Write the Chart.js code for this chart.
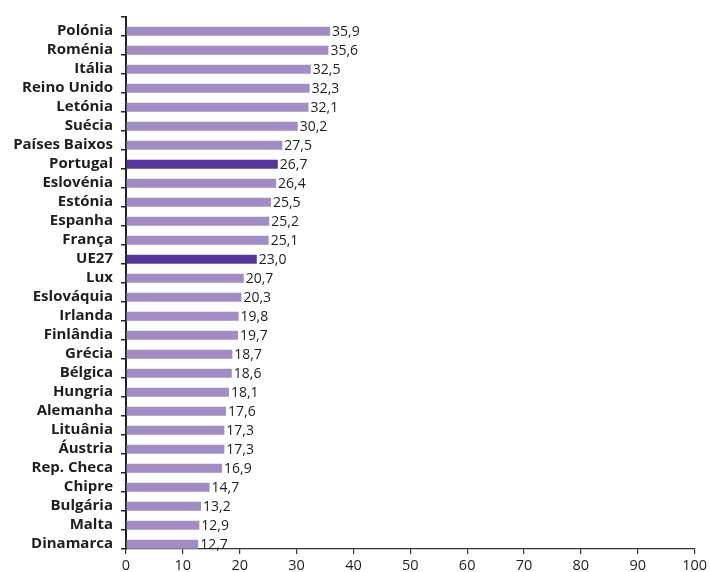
<!DOCTYPE html>
<html>
<head>
<meta charset="utf-8">
<script src="https://cdn.jsdelivr.net/npm/chart.js@4.4.1/dist/chart.umd.min.js"></script>
<style>
  html, body { margin: 0; padding: 0; background: #ffffff; }
  #wrap { width: 710px; height: 572px; position: relative; }
</style>
</head>
<body>
<div id="wrap"><canvas id="chart"></canvas></div>
<script>
// Countries, top to bottom
const countries = [
  'Polónia', 'Roménia', 'Itália', 'Reino Unido', 'Letónia', 'Suécia',
  'Países Baixos', 'Portugal', 'Eslovénia', 'Estónia', 'Espanha', 'França',
  'UE27', 'Lux', 'Eslováquia', 'Irlanda', 'Finlândia', 'Grécia', 'Bélgica',
  'Hungria', 'Alemanha', 'Lituânia', 'Áustria', 'Rep. Checa', 'Chipre',
  'Bulgária', 'Malta', 'Dinamarca'
];

// Value per country (%)
const values = [
  35.9, 35.6, 32.5, 32.3, 32.1, 30.2,
  27.5, 26.7, 26.4, 25.5, 25.2, 25.1,
  23.0, 20.7, 20.3, 19.8, 19.7, 18.7, 18.6,
  18.1, 17.6, 17.3, 17.3, 16.9, 14.7,
  13.2, 12.9, 12.7
];

// Bars shown in the darker shade
const highlighted = ['Portugal', 'UE27'];

// Horizontal axis ticks
const xTicks = [0, 10, 20, 30, 40, 50, 60, 70, 80, 90, 100];

const LIGHT = '#a38bc3';
const DARK = '#56389a';
const INK = '#1e1e1e';

const fmt = v => v.toFixed(1).replace('.', ',');

// Writes each value just past the end of its bar
const valueLabels = {
  id: 'valueLabels',
  afterDatasetsDraw(chart) {
    const { ctx } = chart;
    const meta = chart.getDatasetMeta(1);
    ctx.save();
    ctx.font = '14px "Open Sans"';
    ctx.fillStyle = INK;
    ctx.textAlign = 'left';
    ctx.textBaseline = 'middle';
    meta.data.forEach((bar, i) => {
      ctx.fillText(fmt(values[i]), bar.x + 2, bar.y + 1);
    });
    ctx.restore();
  }
};

new Chart(document.getElementById('chart'), {
  type: 'bar',
  data: {
    labels: countries,
    datasets: [
      // empty upper slot so each bar sits in the lower half of its row
      { label: 'spacer', data: countries.map(() => null) },
      {
        label: 'valor',
        data: values,
        backgroundColor: countries.map(c => highlighted.includes(c) ? DARK : LIGHT),
        borderWidth: 0
      }
    ]
  },
  options: {
    indexAxis: 'y',
    responsive: true,
    maintainAspectRatio: false,
    animation: false,
    datasets: { bar: { categoryPercentage: 1.0, barPercentage: 0.94 } },
    layout: { padding: { top: 13, left: 0, right: 0, bottom: 0 } },
    plugins: { legend: { display: false }, tooltip: { enabled: false } },
    scales: {
      x: {
        type: 'linear',
        min: 0,
        max: 100,
        afterBuildTicks(scale) { scale.ticks = xTicks.map(v => ({ value: v })); },
        afterFit(scale) { scale.height = 23; },
        grid: { drawOnChartArea: false, drawTicks: true, tickLength: 5, color: '#333', lineWidth: 1.2 },
        border: { display: true, color: '#333', width: 1.2 },
        ticks: {
          padding: 3,
          color: INK,
          font: { family: '"Open Sans"', size: 14.5 },
          maxRotation: 0,
          callback: v => String(v)
        }
      },
      y: {
        type: 'category',
        afterFit(scale) { scale.width = 126; },
        grid: { offset: true, drawOnChartArea: false, drawTicks: true, tickLength: 5, color: '#222', lineWidth: 1.5 },
        border: { display: true, color: '#222', width: 2 },
        ticks: {
          padding: 8,
          labelOffset: 4.5,
          color: INK,
          autoSkip: false,
          font: { family: '"Open Sans"', size: 15, weight: 'bold' }
        }
      }
    }
  },
  plugins: [valueLabels]
});
</script>
</body>
</html>
